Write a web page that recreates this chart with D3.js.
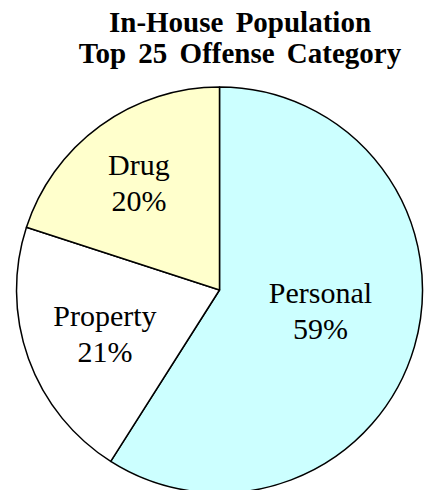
<!DOCTYPE html>
<html>
<head>
<meta charset="utf-8">
<script src="https://cdn.jsdelivr.net/npm/d3@7"></script>
<style>
  html, body { margin: 0; padding: 0; background: #fff; }
  svg { display: block; }
  text { font-family: "Liberation Serif", Tinos, "Times New Roman", Times, serif; }
</style>
</head>
<body>
<svg id="chart" width="433" height="490"></svg>
<script>
// Offense categories of the in-house population (share of top 25)
const categories = ["Personal", "Property", "Drug"];
const shares = [59, 21, 20];
const fills = ["#CCFFFF", "#FFFFFF", "#FFFFCC"];
const titleLines = ["In-House Population", "Top 25 Offense Category"];

const svg = d3.select("#chart");
const cx = 219.5, cy = 290, R = 203;

// Title
const title = svg.append("g")
  .attr("font-weight", "bold")
  .attr("font-size", 29)
  .attr("text-anchor", "middle")
  .style("word-spacing", "5px");
title.selectAll("text")
  .data(titleLines)
  .join("text")
  .attr("x", 240)
  .attr("y", (d, i) => 32 + i * 31)
  .text(d => d);

// Pie, starting at 12 o'clock and running clockwise
const data = categories.map((c, i) => ({ name: c, value: shares[i], fill: fills[i] }));
const pie = d3.pie().value(d => d.value).sort(null);
const arcs = pie(data);
const arc = d3.arc().innerRadius(0).outerRadius(R);
const labelArc = d3.arc().innerRadius(R * 0.6).outerRadius(R * 0.6);

const g = svg.append("g").attr("transform", `translate(${cx},${cy})`);

g.selectAll("path")
  .data(arcs)
  .join("path")
  .attr("d", arc)
  .attr("fill", d => d.data.fill)
  .attr("stroke", "#000")
  .attr("stroke-width", 1.5)
  .attr("stroke-linejoin", "round");

// Small per-label nudges so each text block sits well inside its slice
const labelNudge = {
  Personal: [-16, -13],
  Property: [0, 3],
  Drug: [-9, -8]
};

// Two-line labels: category name and percentage
const labels = g.selectAll("g.label")
  .data(arcs)
  .join("g")
  .attr("class", "label")
  .attr("transform", d => {
    const [x, y] = labelArc.centroid(d);
    const [nx, ny] = labelNudge[d.data.name];
    return `translate(${x + nx},${y + ny})`;
  })
  .attr("font-size", 30)
  .attr("text-anchor", "middle")
  .attr("fill", "#000");

labels.append("text")
  .attr("y", -8)
  .text(d => d.data.name);
labels.append("text")
  .attr("y", 28)
  .text(d => d.data.value + "%");
</script>
</body>
</html>
